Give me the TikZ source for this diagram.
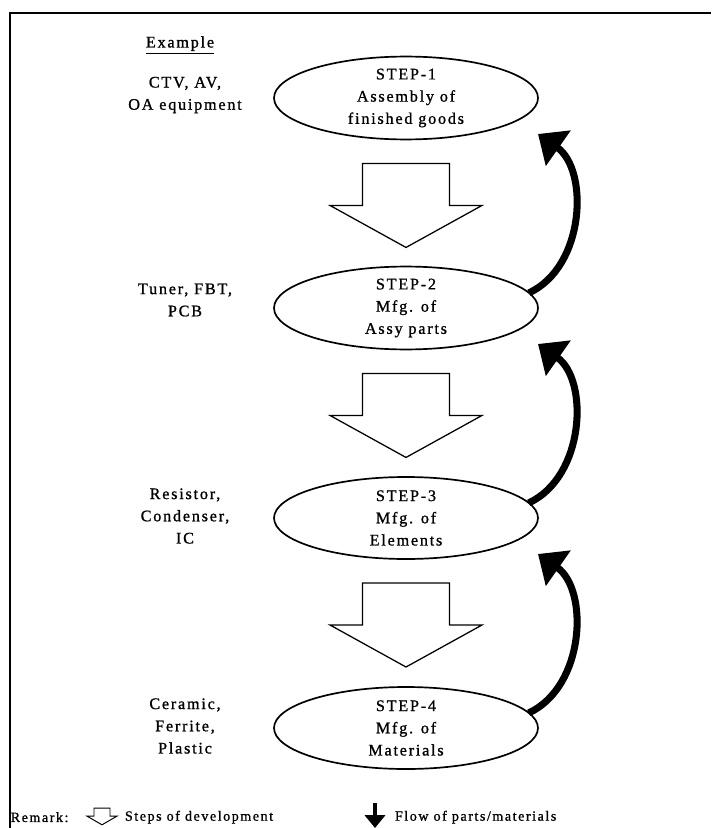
\documentclass[tikz,border=0pt]{standalone}
\usepackage{fontspec}
\setmainfont{Liberation Serif}[LetterSpace=11,FakeBold=1]
\usetikzlibrary{arrows.meta,calc,shapes.geometric}

\begin{document}
\begin{tikzpicture}[inner sep=0pt,outer sep=0pt,thick,
stepnode/.style={draw,ellipse,line width=1.2pt,minimum width=6.6cm,minimum height=2.05cm,align=center,font=\fontsize{11.5}{15.8}\selectfont},
exnode/.style={align=center,font=\fontsize{11.5}{15.8}\selectfont},
devstep/.style={draw,line width=0.9pt,line join=miter},
flowarrow/.style={line width=5pt,-{Triangle[length=0.62cm,width=1.05cm]}},
remnode/.style={anchor=west,font=\fontsize{10}{12}\selectfont}]
\useasboundingbox (0,0) rectangle (17.775,-20.7);
\draw[line width=1.8pt] (17.775,-0.33) -- (0.25,-0.33) -- (0.25,-20.7);
\draw (4.5,-1.125) node[exnode] (ex) {\underline{Example}};
\draw (10.15,-2.45) node[stepnode] (s1) {STEP-1\\Assembly of\\finished goods};
\draw (10.15,-7.7) node[stepnode] (s2) {STEP-2\\Mfg. of\\Assy parts};
\draw (10.15,-12.95) node[stepnode] (s3) {STEP-3\\Mfg. of\\Elements};
\draw (10.15,-18.2) node[stepnode] (s4) {STEP-4\\Mfg. of\\Materials};
\draw (4.625,-2.375) node[exnode] (ex1) {CTV, AV,\\OA equipment};
\draw (4.625,-7.5) node[exnode] (ex2) {Tuner, FBT,\\PCB};
\draw (4.625,-12.9) node[exnode] (ex3) {Resistor,\\Condenser,\\IC};
\draw (4.625,-18.15) node[exnode] (ex4) {Ceramic,\\Ferrite,\\Plastic};
\foreach \a in {s1,s2,s3}
  \draw[devstep] ($(\a.south)+(0,-0.6)$) ++(-1.09,0) -- ++(2.18,0) -- ++(0,-1.05) -- ++(0.81,0) -- ++(-1.9,-1.05) -- ++(-1.9,1.05) -- ++(0.81,0) -- cycle;
\foreach \a/\b in {s2/s1,s3/s2,s4/s3}
  \draw[flowarrow] (\a.7) to[out=25,in=-35] ($(\b.east)+(0,-0.9)$);
\draw (0.27,-20.43) node[remnode] (rem) {Remark:};
\draw[devstep,line width=0.7pt] (2.35,-20.2) -- ++(0.4,0) -- ++(0,-0.2) -- ++(0.18,0) -- ++(-0.38,-0.22) -- ++(-0.38,0.22) -- ++(0.18,0) -- cycle;
\draw (3.125,-20.43) node[remnode] (steps) {Steps of development};
\coordinate (fa) at (9.375,-20.08);
\coordinate (fb) at (9.375,-20.7);
\draw[line width=2.6pt,-{Triangle[length=0.32cm,width=0.5cm]}] (fa) -- (fb);
\draw (9.875,-20.43) node[remnode] (flow) {Flow of parts/materials};
\end{tikzpicture}
\end{document}
